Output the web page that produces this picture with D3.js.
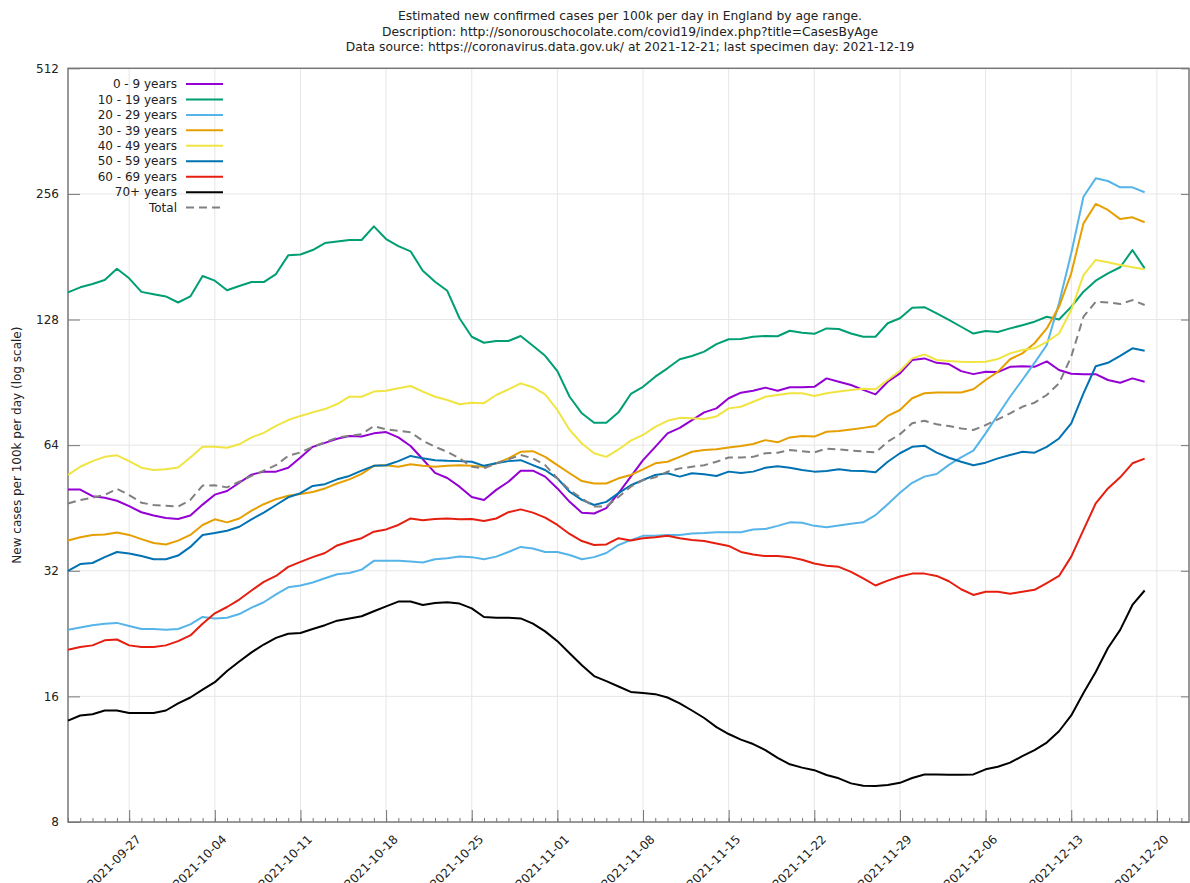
<!DOCTYPE html>
<html>
<head>
<meta charset="utf-8">
<script src="https://cdn.jsdelivr.net/npm/d3@7"></script>
<style>
  body { margin: 0; background: #fff; }
  text { font-family: "DejaVu Sans", sans-serif; fill: #222; }
</style>
</head>
<body>
<script>
// daily values, 2021-09-22 .. 2021-12-19
var startDay = "2021-09-22";
var lastDay = "2021-12-19";

var age0_9 = [50.1, 50.1, 48.3, 47.9, 47.1, 45.7, 44.2, 43.4, 42.8, 42.6, 43.4, 46.1, 48.7, 49.7, 52.0, 54.4, 55.3, 55.3, 56.5, 59.8, 63.4, 64.8, 66.3, 67.3, 67.1, 68.3, 68.8, 66.8, 63.7, 59.2, 54.9,
  53.4, 50.9, 48.1, 47.3, 50.0, 52.3, 55.6, 55.6, 53.8, 50.4, 46.8, 44.1, 43.9, 45.2, 49.1, 53.8, 58.9, 63.4, 68.3, 70.4, 73.5, 76.7, 78.4, 82.9, 85.5, 86.4, 87.9, 86.4, 88.1, 88.1,
  88.3, 92.5, 90.8, 89.2, 86.8, 84.7, 90.8, 95.1, 102.4, 103.3, 100.8, 100.1, 96.3, 94.7, 95.9, 95.8, 98.6, 98.9, 98.6, 101.6, 96.9, 94.9, 94.7, 94.7, 91.7, 90.3, 92.5, 90.8];
var age10_19 = [148.7, 152.9, 155.7, 159.2, 169.4, 160.7, 149.1, 147.2, 145.4, 140.6, 145.4, 162.8, 158.6, 150.4, 154.0, 157.4, 157.4, 164.5, 182.4, 183.3, 187.8, 195.2, 197.0, 198.5, 198.5, 214.0, 199.6, 192.0, 186.5, 167.5, 157.7,
  150.0, 128.9, 116.4, 112.6, 113.7, 113.7, 116.9, 110.8, 104.8, 96.3, 83.6, 76.3, 72.4, 72.4, 76.7, 84.9, 88.3, 93.4, 97.8, 102.8, 104.7, 107.2, 111.8, 114.8, 115.0, 116.4, 116.9, 116.7, 120.3, 119.0,
  118.3, 121.9, 121.5, 118.5, 116.4, 116.4, 125.4, 128.9, 136.6, 137.0, 132.4, 127.8, 123.0, 118.5, 120.1, 119.5, 121.9, 124.0, 126.5, 130.0, 128.0, 137.3, 149.3, 158.6, 165.2, 170.8, 187.8, 169.8];
var age20_29 = [23.1, 23.4, 23.7, 23.9, 24.0, 23.6, 23.2, 23.2, 23.1, 23.2, 23.8, 24.8, 24.6, 24.7, 25.2, 26.1, 26.9, 28.1, 29.2, 29.5, 30.0, 30.7, 31.4, 31.6, 32.2, 33.8, 33.8, 33.8, 33.7, 33.5, 34.1,
  34.3, 34.6, 34.5, 34.1, 34.6, 35.5, 36.5, 36.2, 35.5, 35.5, 34.9, 34.1, 34.5, 35.3, 36.9, 37.9, 38.8, 38.8, 39.0, 39.0, 39.3, 39.4, 39.6, 39.6, 39.6, 40.2, 40.3, 41.0, 41.8, 41.7,
  41.0, 40.7, 41.1, 41.5, 41.8, 43.5, 46.2, 49.2, 52.0, 53.8, 54.6, 57.4, 59.8, 62.1, 68.3, 75.6, 83.6, 91.7, 100.8, 111.2, 140.0, 184.5, 252.0, 279.0, 274.9, 265.5, 265.5, 258.3];
var age30_39 = [37.8, 38.5, 39.0, 39.1, 39.5, 39.0, 38.1, 37.3, 37.0, 37.8, 39.0, 41.2, 42.5, 41.8, 42.7, 44.6, 46.2, 47.5, 48.4, 48.9, 49.4, 50.4, 51.8, 53.0, 54.6, 57.1, 57.3, 56.8, 57.6, 57.1, 56.8,
  57.1, 57.3, 57.1, 56.8, 57.9, 59.5, 61.7, 61.9, 60.0, 57.3, 54.8, 52.5, 51.8, 51.8, 53.3, 54.3, 56.0, 57.9, 58.4, 60.0, 61.7, 62.3, 62.6, 63.2, 63.7, 64.4, 65.8, 65.0, 66.8, 67.3,
  67.1, 68.9, 69.2, 69.8, 70.4, 71.1, 75.2, 77.7, 82.9, 85.2, 85.6, 85.6, 85.6, 87.1, 91.7, 95.9, 102.8, 106.2, 112.3, 121.9, 137.3, 165.2, 217.6, 242.2, 234.3, 222.8, 225.0, 218.9];
var age40_49 = [54.3, 56.8, 58.6, 60.0, 60.5, 58.6, 56.5, 55.8, 56.0, 56.6, 59.8, 63.4, 63.4, 63.1, 64.3, 66.8, 68.5, 71.2, 73.5, 75.2, 76.7, 78.1, 80.3, 83.6, 83.6, 86.0, 86.4, 87.6, 88.7, 86.0, 83.6,
  82.1, 80.2, 80.9, 80.7, 84.4, 87.1, 90.0, 88.1, 84.7, 77.7, 69.6, 64.6, 61.2, 60.0, 62.5, 65.6, 67.7, 70.8, 73.2, 74.4, 74.2, 73.9, 75.0, 78.4, 79.1, 81.3, 83.6, 84.4, 85.2, 85.2,
  83.9, 85.2, 86.0, 86.8, 87.4, 87.1, 91.7, 96.5, 103.3, 105.6, 102.4, 101.8, 101.4, 101.3, 101.4, 102.9, 106.2, 108.2, 109.2, 113.2, 118.5, 134.9, 163.6, 177.8, 175.5, 172.9, 170.8, 168.9];
var age50_59 = [32.0, 33.2, 33.4, 34.5, 35.5, 35.2, 34.7, 34.1, 34.1, 34.8, 36.5, 39.0, 39.4, 39.9, 40.8, 42.5, 44.1, 46.0, 48.0, 49.1, 51.1, 51.6, 53.0, 54.0, 55.6, 57.1, 57.3, 58.6, 60.3, 59.5, 58.9,
  58.7, 58.6, 58.4, 57.1, 57.9, 58.6, 58.9, 57.3, 55.8, 53.3, 49.5, 47.3, 46.0, 46.8, 49.1, 51.3, 52.8, 54.3, 54.8, 53.8, 54.8, 54.5, 54.0, 55.3, 54.9, 55.3, 56.5, 57.0, 56.5, 55.8,
  55.3, 55.5, 56.0, 55.6, 55.5, 55.1, 58.4, 61.2, 63.4, 63.8, 61.4, 59.7, 58.4, 57.3, 58.1, 59.5, 60.6, 61.7, 61.4, 63.4, 66.4, 72.2, 85.2, 98.9, 100.8, 104.7, 109.2, 107.7];
var age60_69 = [20.7, 21.0, 21.2, 21.8, 21.9, 21.2, 21.0, 21.0, 21.2, 21.7, 22.4, 23.9, 25.3, 26.2, 27.3, 28.7, 30.1, 31.1, 32.7, 33.6, 34.5, 35.3, 36.8, 37.6, 38.3, 39.7, 40.2, 41.2, 42.7, 42.3, 42.6,
  42.7, 42.5, 42.6, 42.1, 42.7, 44.2, 44.9, 44.1, 42.9, 41.2, 39.2, 37.7, 36.9, 37.0, 38.3, 37.8, 38.3, 38.5, 38.8, 38.3, 37.9, 37.7, 37.2, 36.7, 35.5, 35.0, 34.7, 34.7, 34.5, 34.0,
  33.3, 32.9, 32.7, 31.8, 30.7, 29.5, 30.3, 31.0, 31.5, 31.5, 31.1, 30.2, 28.9, 28.0, 28.5, 28.5, 28.2, 28.5, 28.8, 29.9, 31.1, 34.6, 40.1, 46.4, 50.4, 53.6, 57.9, 59.4];
var age70plus = [14.0, 14.4, 14.5, 14.8, 14.8, 14.6, 14.6, 14.6, 14.8, 15.4, 15.9, 16.6, 17.3, 18.4, 19.4, 20.4, 21.3, 22.1, 22.6, 22.7, 23.2, 23.7, 24.3, 24.6, 24.9, 25.6, 26.3, 27.0, 27.0, 26.5, 26.8,
  26.9, 26.7, 26.0, 24.8, 24.7, 24.7, 24.6, 23.9, 22.9, 21.7, 20.3, 19.0, 17.9, 17.4, 16.9, 16.4, 16.3, 16.2, 15.9, 15.4, 14.8, 14.2, 13.5, 13.0, 12.6, 12.3, 11.9, 11.4, 11.0, 10.8,
  10.65, 10.37, 10.18, 9.9, 9.77, 9.76, 9.81, 9.93, 10.2, 10.4, 10.4, 10.38, 10.38, 10.4, 10.7, 10.85, 11.1, 11.5, 11.9, 12.4, 13.2, 14.4, 16.3, 18.3, 20.9, 23.1, 26.5, 28.7];
var total = [46.4, 47.3, 47.9, 48.6, 50.3, 48.6, 46.6, 46.0, 45.8, 45.6, 47.3, 51.2, 51.3, 50.7, 52.3, 54.0, 55.6, 57.3, 60.3, 61.5, 63.4, 65.0, 66.7, 67.4, 68.0, 71.1, 69.8, 69.3, 68.7, 65.6, 63.4,
  61.7, 59.5, 56.8, 56.3, 57.9, 59.2, 60.6, 59.5, 57.3, 53.3, 50.0, 47.7, 45.6, 45.6, 48.1, 50.9, 52.8, 53.6, 55.3, 56.3, 56.8, 57.3, 58.4, 59.8, 59.8, 60.0, 61.2, 61.4, 62.3, 61.9,
  61.5, 62.8, 62.5, 62.1, 61.8, 61.5, 65.2, 68.0, 72.2, 73.2, 71.8, 71.1, 70.2, 69.6, 71.5, 73.8, 76.3, 79.1, 80.9, 84.4, 90.0, 104.3, 130.0, 141.2, 140.7, 139.4, 142.5, 138.7];

var seriesNames = ["0 - 9 years", "10 - 19 years", "20 - 29 years", "30 - 39 years", "40 - 49 years",
                   "50 - 59 years", "60 - 69 years", "70+ years", "Total"];
var seriesValues = [age0_9, age10_19, age20_29, age30_39, age40_49, age50_59, age60_69, age70plus, total];
var seriesColors = ["#9400d3", "#009e73", "#56b4e9", "#e69f00", "#f0e442", "#0072b2", "#e51e10", "#000000", "#808080"];

var yTicks = [8, 16, 32, 64, 128, 256, 512];
var xTickDates = ["2021-09-27", "2021-10-04", "2021-10-11", "2021-10-18", "2021-10-25", "2021-11-01", "2021-11-08",
                  "2021-11-15", "2021-11-22", "2021-11-29", "2021-12-06", "2021-12-13", "2021-12-20"];

function drawChart() {
  var W = 1190, H = 883;
  // plot box (named to avoid clashing with window.top)
  var pLeft = 68, pRight = 1189, pTop = 68.3, pBottom = 822;

  var parse = d3.utcParse("%Y-%m-%d");
  var days = d3.utcDay.range(parse(startDay), d3.utcDay.offset(parse(lastDay), 1));

  var x = d3.scaleUtc()
    .domain([parse("2021-09-22"), new Date(Date.UTC(2021, 11, 22, 15))])
    .range([pLeft, pRight]);
  var y = d3.scaleLog().base(2).domain([8, 512]).range([pBottom, pTop]);

  var svg = d3.select("body").append("svg")
    .attr("width", W).attr("height", H);

  // titles
  var titles = ["Estimated new confirmed cases per 100k per day in England by age range.",
    "Description: http://sonorouschocolate.com/covid19/index.php?title=CasesByAge",
    "Data source: https://coronavirus.data.gov.uk/ at 2021-12-21; last specimen day: 2021-12-19"];
  svg.selectAll("text.title").data(titles).enter().append("text")
    .attr("class", "title")
    .attr("x", 630).attr("y", function(d, i) { return 20 + i * 15.5; })
    .attr("text-anchor", "middle")
    .style("font-size", "12.3px")
    .text(function(d) { return d; });

  // grid
  var grid = svg.append("g").attr("stroke", "#e6e6e6").attr("stroke-width", 1);
  grid.selectAll("line.gy").data(yTicks.slice(1, -1)).enter().append("line")
    .attr("x1", pLeft).attr("x2", pRight)
    .attr("y1", function(d) { return y(d); }).attr("y2", function(d) { return y(d); });
  grid.selectAll("line.gx").data(xTickDates).enter().append("line")
    .attr("y1", pTop).attr("y2", pBottom)
    .attr("x1", function(d) { return x(parse(d)); }).attr("x2", function(d) { return x(parse(d)); });

  // axes, ticks drawn inward like the original
  var yAxis = d3.axisLeft(y).tickValues(yTicks).tickFormat(d3.format("d")).tickSize(-12).tickPadding(9);
  svg.append("g").attr("transform", "translate(" + pLeft + ",0)").call(yAxis);
  svg.append("g").attr("transform", "translate(" + pRight + ",0)")
    .call(d3.axisRight(y).tickValues(yTicks).tickSize(-8).tickFormat(""));

  var xMinor = d3.axisBottom(x).ticks(d3.utcDay.every(1)).tickSize(-4).tickFormat("");
  svg.append("g").attr("transform", "translate(0," + pBottom + ")").call(xMinor);
  var xAxis = d3.axisBottom(x).tickValues(xTickDates.map(parse)).tickSize(-12).tickFormat(d3.utcFormat("%Y-%m-%d"));
  var gx = svg.append("g").attr("transform", "translate(0," + pBottom + ")").call(xAxis);
  gx.selectAll("text")
    .attr("text-anchor", "end")
    .attr("transform", "translate(9,15) rotate(-45)")
    .attr("y", 0).attr("x", 0).attr("dy", "0.35em");

  svg.selectAll(".domain").remove();
  svg.selectAll(".tick line").attr("stroke", "#777");
  svg.selectAll(".tick text").style("font-size", "12px").style("font-family", "DejaVu Sans, sans-serif").attr("fill", "#222");

  // border
  svg.append("rect").attr("x", pLeft).attr("y", pTop)
    .attr("width", pRight - pLeft).attr("height", pBottom - pTop)
    .attr("fill", "none").attr("stroke", "#777").attr("stroke-width", 1.5);

  // y label
  svg.append("text")
    .attr("transform", "translate(21," + ((pTop + pBottom) / 2) + ") rotate(-90)")
    .attr("text-anchor", "middle")
    .style("font-size", "12px")
    .text("New cases per 100k per day (log scale)");

  // lines
  var line = d3.line()
    .x(function(d, i) { return x(days[i]); })
    .y(function(d) { return y(d); });

  svg.append("g").selectAll("path").data(seriesValues).enter().append("path")
    .attr("fill", "none")
    .attr("stroke", function(d, i) { return seriesColors[i]; })
    .attr("stroke-width", 2)
    .attr("stroke-linejoin", "round")
    .attr("stroke-dasharray", function(d, i) { return i == 8 ? "8,5" : null; })
    .attr("d", line);

  // legend
  var leg = svg.append("g").selectAll("g").data(seriesNames).enter().append("g")
    .attr("transform", function(d, i) { return "translate(0," + (84 + i * 15.45) + ")"; });
  leg.append("text").attr("x", 177).attr("dy", "0.35em").attr("text-anchor", "end")
    .style("font-size", "12px").text(function(d) { return d; });
  leg.append("line").attr("x1", 186).attr("x2", 223)
    .attr("stroke", function(d, i) { return seriesColors[i]; })
    .attr("stroke-width", 2)
    .attr("stroke-dasharray", function(d, i) { return i == 8 ? "8,5" : null; });
}

drawChart();
</script>
</body>
</html>
